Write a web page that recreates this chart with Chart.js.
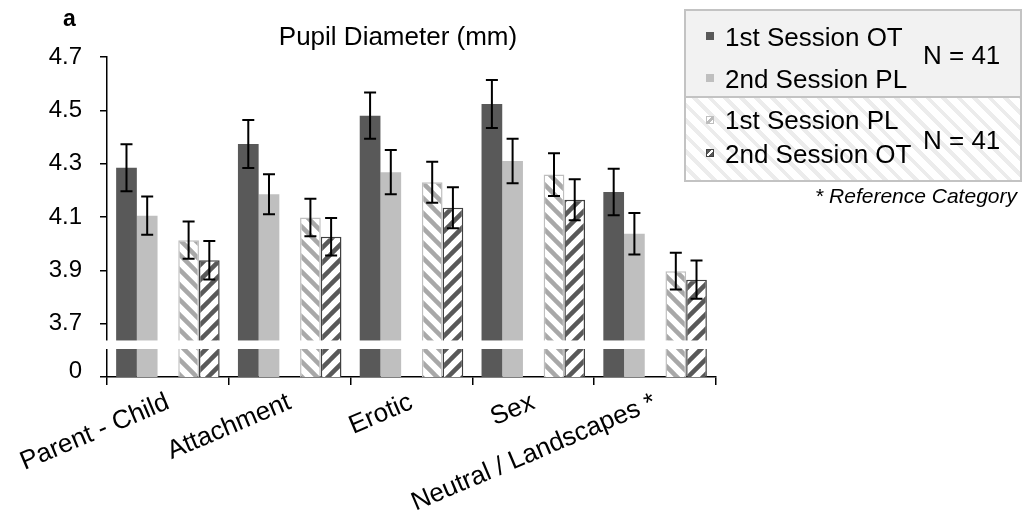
<!DOCTYPE html>
<html><head><meta charset="utf-8">
<script src="https://cdn.jsdelivr.net/npm/chart.js@4.4.1/dist/chart.umd.min.js"></script>
<style>
body{margin:0;background:#fff;width:1026px;height:523px;overflow:hidden;position:relative;font-family:"Liberation Sans",Arial,sans-serif;color:#000}
#c{position:absolute;left:0;top:0}
.t{position:absolute;white-space:nowrap;line-height:1}
.box{position:absolute;box-sizing:border-box;border:2px solid #c3c3c3}
.mk{position:absolute;width:8px;height:8px;box-sizing:border-box}
</style></head><body>
<canvas id="c" width="1026" height="523"></canvas>
<div class="t" style="left:63px;top:7px;font-size:23px;font-weight:bold">a</div>
<div class="t" style="left:0;width:796px;text-align:center;top:23px;font-size:26px">Pupil Diameter (mm)</div>
<div class="box" style="left:684px;top:9px;width:338px;height:89px;background:#f2f2f2"></div>
<div class="box" style="left:684px;top:96px;width:338px;height:86px;background:repeating-linear-gradient(45deg,#ffffff 0 7px,#ececec 7px 11px)"></div>
<div class="mk" style="left:706px;top:32px;background:#595959"></div>
<div class="t" style="left:725px;top:24px;font-size:26px">1st Session OT</div>
<div class="mk" style="left:706px;top:74px;background:#bfbfbf"></div>
<div class="t" style="left:725px;top:66px;font-size:26px">2nd Session PL</div>
<div class="t" style="left:923px;top:42px;font-size:26px">N = 41</div>
<div class="mk" style="left:706px;top:116px;background:linear-gradient(135deg,#fff 0 40%,#bbb 40% 70%,#fff 70%);border:1px solid #bfbfbf"></div>
<div class="t" style="left:725px;top:107px;font-size:26px">1st Session PL</div>
<div class="mk" style="left:706px;top:149px;background:linear-gradient(135deg,#595959 0 35%,#fff 35% 65%,#595959 65%);border:1px solid #404040"></div>
<div class="t" style="left:725px;top:141px;font-size:26px">2nd Session OT</div>
<div class="t" style="left:923px;top:127px;font-size:26px">N = 41</div>
<div class="t" style="right:9px;top:185px;font-size:21px;font-style:italic">* Reference Category</div>
<script>
const FONT = '"Liberation Sans", Arial, sans-serif';
const categories = ['Parent - Child', 'Attachment', 'Erotic', 'Sex', 'Neutral / Landscapes *'];
const ot1Values = [4.285, 4.374, 4.480, 4.524, 4.194];
const ot1Errors = [0.088, 0.090, 0.087, 0.090, 0.087];
const pl2Values = [4.105, 4.185, 4.268, 4.310, 4.037];
const pl2Errors = [0.072, 0.075, 0.083, 0.083, 0.078];
const pl1Values = [4.013, 4.098, 4.230, 4.259, 3.897];
const pl1Errors = [0.070, 0.070, 0.077, 0.080, 0.069];
const ot2Values = [3.938, 4.026, 4.135, 4.165, 3.865];
const ot2Errors = [0.072, 0.070, 0.077, 0.077, 0.072];
const yTickValues = [3.5, 3.7, 3.9, 4.1, 4.3, 4.5, 4.7];
const yTickLabels = ['0', '3.7', '3.9', '4.1', '4.3', '4.5', '4.7'];
const spacer = [null, null, null, null, null];
const BREAK_LOW = 3.605, BREAK_HIGH = 3.637;

const cv = document.getElementById('c');
const mainCtx = cv.getContext('2d');
function hatch(color, dir) {
  const s = 15;
  const t = document.createElement('canvas');
  t.width = s; t.height = s;
  const g = t.getContext('2d');
  g.fillStyle = '#fff'; g.fillRect(0, 0, s, s);
  g.strokeStyle = color; g.lineWidth = 4.5; g.lineCap = 'square';
  g.beginPath();
  for (const o of [-s, 0, s]) {
    if (dir === '/') { g.moveTo(o, s); g.lineTo(o + s, 0); }
    else { g.moveTo(o, 0); g.lineTo(o + s, s); }
  }
  g.stroke();
  return mainCtx.createPattern(t, 'repeat');
}

const extras = {
  id: 'extras',
  afterDatasetsDraw(chart) {
    const {ctx, chartArea} = chart;
    const y = chart.scales.y;
    const yTop = y.getPixelForValue(BREAK_HIGH), yBot = y.getPixelForValue(BREAK_LOW);
    ctx.save();
    ctx.fillStyle = '#fff';
    ctx.fillRect(chartArea.left - 3, yTop, chartArea.right - chartArea.left + 3, yBot - yTop);
    ctx.strokeStyle = '#000'; ctx.lineWidth = 2;
    chart.data.datasets.forEach((ds, i) => {
      if (!ds.errors) return;
      const meta = chart.getDatasetMeta(i);
      meta.data.forEach((bar, j) => {
        const v = ds.data[j], e = ds.errors[j];
        if (v == null) return;
        const x = bar.x, y1 = y.getPixelForValue(v + e), y2 = y.getPixelForValue(v - e);
        ctx.beginPath();
        ctx.moveTo(x, y1); ctx.lineTo(x, y2);
        ctx.moveTo(x - 6, y1); ctx.lineTo(x + 6, y1);
        ctx.moveTo(x - 6, y2); ctx.lineTo(x + 6, y2);
        ctx.stroke();
      });
    });
    ctx.restore();
  }
};

new Chart(cv, {
  type: 'bar',
  data: {
    labels: categories,
    datasets: [
      {label: '1st Session OT', data: ot1Values, errors: ot1Errors, backgroundColor: '#595959', borderWidth: 0},
      {label: '2nd Session PL', data: pl2Values, errors: pl2Errors, backgroundColor: '#bfbfbf', borderWidth: 0},
      {label: '', data: spacer, backgroundColor: 'rgba(0,0,0,0)', borderWidth: 0},
      {label: '1st Session PL', data: pl1Values, errors: pl1Errors, backgroundColor: hatch('#a8a8a8', '\\'), borderColor: '#bfbfbf', borderWidth: 1.5},
      {label: '2nd Session OT', data: ot2Values, errors: ot2Errors, backgroundColor: hatch('#595959', '/'), borderColor: '#404040', borderWidth: 1.5}
    ]
  },
  options: {
    responsive: false,
    animation: false,
    events: [],
    barPercentage: 1,
    categoryPercentage: 0.85,
    layout: {padding: {left: 0, right: 310, top: 57, bottom: 0}},
    plugins: {legend: {display: false}, tooltip: {enabled: false}, title: {display: false}},
    scales: {
      x: {
        afterFit: s => { s.height = 146; },
        ticks: {font: {family: FONT, size: 26}, color: '#000', minRotation: 23, maxRotation: 23, autoSkip: false, padding: 2},
        grid: {drawOnChartArea: false, color: '#000', lineWidth: 1.5, tickLength: 8, offset: true},
        border: {color: '#000', width: 1.5}
      },
      y: {
        type: 'linear', min: 3.5, max: 4.7,
        afterBuildTicks: s => { s.ticks = yTickValues.map(v => ({value: v})); },
        afterFit: s => { s.width = 107; },
        ticks: {
          callback: (v) => { const i = yTickValues.indexOf(v); return i === 0 ? [yTickLabels[0], ''] : yTickLabels[i]; },
          font: (ctx) => ({family: FONT, size: 24, lineHeight: ctx.index === 0 ? 0.5 : 1.2}),
          color: '#000', padding: 18
        },
        grid: {drawOnChartArea: false, color: '#000', lineWidth: 1.5, tickLength: 7},
        border: {color: '#000', width: 1.5}
      }
    }
  },
  plugins: [extras]
});
</script>
</body></html>
